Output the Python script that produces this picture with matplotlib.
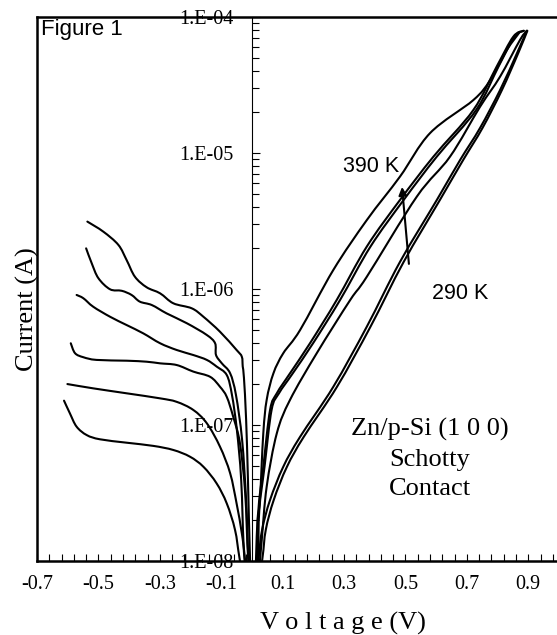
import numpy as np
import matplotlib
matplotlib.use("Agg")
import matplotlib.pyplot as plt
from matplotlib.path import Path
from matplotlib.patches import PathPatch
from matplotlib.ticker import LogLocator, NullFormatter, FixedLocator

# I-V curves of Zn/p-Si Schottky contact, 290 K .. 390 K
# each list runs from reverse bias, through the dip at 0 V, to forward bias
temps = [390, 370, 350, 330, 310, 290]

v_390 = [-0.536, -0.484, -0.435, -0.408, -0.381, -0.343, -0.299, -0.256, -0.196, -0.158,
         -0.104, -0.050, -0.033, -0.030, -0.026, -0.019, -0.013, -0.006, 0.004,
         0.013, 0.018, 0.026, 0.037, 0.048, 0.070, 0.102, 0.157, 0.265, 0.374, 0.482,
         0.580, 0.721, 0.776, 0.830, 0.873]
i_390 = [3.13e-6, 2.64e-6, 2.11e-6, 1.63e-6, 1.23e-6, 1.03e-6, 9.29e-7, 7.85e-7, 7.21e-7, 6.25e-7,
         4.85e-7, 3.56e-7, 3.18e-7, 2.69e-7, 2.22e-7, 1.10e-7, 3.98e-8, 1.0e-8, 3e-9,
         1.0e-8, 2.0e-8, 2.81e-8, 8.69e-8, 1.53e-7, 2.40e-7, 3.37e-7, 5.00e-7, 1.38e-6, 3.21e-6, 6.70e-6,
         1.40e-5, 2.45e-5, 3.44e-5, 5.71e-5, 7.80e-5]

v_370 = [-0.540, -0.522, -0.500, -0.462, -0.424, -0.392, -0.365, -0.326, -0.278, -0.212,
         -0.147, -0.120, -0.117, -0.098, -0.071, -0.052, -0.032, -0.019, -0.011, 0.004,
         0.017, 0.021, 0.037, 0.059, 0.081, 0.124, 0.189, 0.276, 0.374, 0.482,
         0.591, 0.721, 0.797, 0.851, 0.884]
i_370 = [1.99e-6, 1.55e-6, 1.20e-6, 9.95e-7, 9.70e-7, 9.04e-7, 8.07e-7, 7.62e-7, 6.62e-7, 5.60e-7,
         4.59e-7, 3.99e-7, 3.27e-7, 2.84e-7, 2.40e-7, 1.66e-7, 7.76e-8, 2.81e-8, 1.0e-8, 3e-9,
         1.0e-8, 2.37e-8, 4.93e-8, 1.29e-7, 1.71e-7, 2.40e-7, 3.99e-7, 8.30e-7, 2.05e-6, 4.51e-6,
         9.40e-6, 2.07e-5, 4.32e-5, 7.16e-5, 7.92e-5]

v_350 = [-0.571, -0.549, -0.517, -0.462, -0.408, -0.354, -0.299, -0.245, -0.191, -0.147,
         -0.115, -0.082, -0.065, -0.049, -0.035, -0.024, 0.004,
         0.019, 0.024, 0.041, 0.064, 0.088, 0.133, 0.199, 0.287, 0.386, 0.494,
         0.602, 0.730, 0.803, 0.855, 0.886]
i_350 = [9.04e-7, 8.55e-7, 7.41e-7, 6.25e-7, 5.43e-7, 4.72e-7, 3.99e-7, 3.56e-7, 3.27e-7, 3.01e-7,
         2.69e-7, 2.33e-7, 1.66e-7, 9.18e-8, 3.94e-8, 1.0e-8, 3e-9,
         1.0e-8, 2.37e-8, 4.93e-8, 1.29e-7, 1.71e-7, 2.40e-7, 3.99e-7, 8.30e-7, 2.05e-6, 4.51e-6,
         9.40e-6, 2.07e-5, 4.32e-5, 7.16e-5, 7.92e-5]

v_330 = [-0.590, -0.576, -0.549, -0.506, -0.408, -0.343, -0.299, -0.245, -0.191, -0.136,
         -0.104, -0.082, -0.061, -0.039, -0.022, -0.012, 0.006,
         0.026, 0.032, 0.048, 0.081, 0.124, 0.211, 0.320, 0.374, 0.537, 0.645,
         0.743, 0.808, 0.873, 0.895]
i_330 = [3.99e-7, 3.37e-7, 3.15e-7, 3.01e-7, 2.97e-7, 2.92e-7, 2.84e-7, 2.76e-7, 2.47e-7, 2.26e-7,
         1.91e-7, 1.61e-7, 1.15e-7, 7.33e-8, 3.15e-8, 1.0e-8, 3e-9,
         1.0e-8, 1.43e-8, 3.52e-8, 8.69e-8, 1.53e-7, 3.37e-7, 8.30e-7, 1.23e-6, 4.78e-6, 9.40e-6,
         2.19e-5, 3.64e-5, 6.78e-5, 7.92e-5]

v_310 = [-0.601, -0.517, -0.408, -0.299, -0.245, -0.191, -0.147, -0.104, -0.071, -0.050,
         -0.033, -0.022, 0.000,
         0.021, 0.033, 0.059, 0.102, 0.157, 0.265, 0.374, 0.482, 0.602, 0.678,
         0.743, 0.808, 0.863, 0.895]
i_310 = [2.00e-7, 1.86e-7, 1.71e-7, 1.57e-7, 1.48e-7, 1.29e-7, 1.03e-7, 6.92e-8, 4.42e-8, 2.65e-8,
         1.60e-8, 1.0e-8, 3e-9,
         1.0e-8, 1.69e-8, 2.81e-8, 4.93e-8, 8.20e-8, 1.91e-7, 5.28e-7, 1.58e-6, 4.51e-6, 8.89e-6,
         1.53e-5, 2.90e-5, 5.41e-5, 7.92e-5]

v_290 = [-0.612, -0.593, -0.571, -0.538, -0.495, -0.408, -0.321, -0.256, -0.202, -0.158,
         -0.115, -0.082, -0.055, -0.039, 0.000,
         0.033, 0.045, 0.071, 0.114, 0.169, 0.277, 0.386, 0.494, 0.612, 0.688,
         0.751, 0.814, 0.867, 0.897]
i_290 = [1.51e-7, 1.22e-7, 9.72e-8, 8.43e-8, 7.85e-8, 7.41e-8, 7.02e-8, 6.55e-8, 5.85e-8, 4.93e-8,
         3.72e-8, 2.65e-8, 1.69e-8, 1.0e-8, 3e-9,
         1.0e-8, 1.69e-8, 2.81e-8, 4.93e-8, 8.20e-8, 1.91e-7, 5.28e-7, 1.58e-6, 4.51e-6, 8.89e-6,
         1.53e-5, 2.90e-5, 5.41e-5, 7.92e-5]

curves = [(v_390, i_390), (v_370, i_370), (v_350, i_350),
          (v_330, i_330), (v_310, i_310), (v_290, i_290)]

y_ticks = [1e-8, 1e-7, 1e-6, 1e-5, 1e-4]
y_labels = ['1.E-08', '1.E-07', '1.E-06', '1.E-05', '1.E-04']
x_ticks = [-0.7, -0.5, -0.3, -0.1, 0.1, 0.3, 0.5, 0.7, 0.9]
x_labels = ['-0.7', '-0.5', '-0.3', '-0.1', '0.1', '0.3', '0.5', '0.7', '0.9']

serif = 'Liberation Serif'
sans = 'Liberation Sans'


def smooth_path(v, i):
    """Smoothed (Excel-style) line through the points, built in log-current space."""
    pts = np.column_stack([np.asarray(v, float), np.log10(i)])
    n = len(pts)
    verts = [pts[0]]
    codes = [Path.MOVETO]
    for k in range(n - 1):
        p0 = pts[max(k - 1, 0)]
        p1 = pts[k]
        p2 = pts[k + 1]
        p3 = pts[min(k + 2, n - 1)]
        verts += [p1 + (p2 - p0) / 6, p2 - (p3 - p1) / 6, p2]
        codes += [Path.CURVE4] * 3
    verts = np.array(verts)
    verts[:, 1] = 10 ** verts[:, 1]
    return Path(verts, codes)


fig = plt.figure(figsize=(5.57, 6.35), dpi=100)
ax = fig.add_axes([37/557, 74/635, 522/557, 544/635])

ax.set_yscale('log')
ax.set_xlim(-0.7, 1.0)
ax.set_ylim(1e-8, 1e-4)
ax.set_axisbelow(True)

for v, i in curves:
    ax.add_patch(PathPatch(smooth_path(v, i), fill=False, edgecolor='black', lw=1.5,
                           joinstyle='round', capstyle='round'))

# y axis sits at V = 0
ax.spines['left'].set_position(('data', 0))
ax.spines['left'].set_linewidth(0.8)
ax.spines['right'].set_visible(False)
ax.spines['top'].set_linewidth(1.8)
ax.spines['bottom'].set_linewidth(1.8)
ax.plot([0, 0], [0, 1], transform=ax.transAxes, color='black', lw=1.8,
        clip_on=False, solid_capstyle='projecting')

ax.set_yticks(y_ticks)
ax.set_yticklabels(y_labels, fontfamily=serif, fontsize=14.5)
ax.yaxis.set_minor_locator(LogLocator(base=10, subs=np.arange(2, 10)))
ax.yaxis.set_minor_formatter(NullFormatter())
ax.tick_params(axis='y', which='both', direction='in', right=False, width=0.8, pad=13)
ax.tick_params(axis='y', which='major', length=6)
ax.tick_params(axis='y', which='minor', length=5)

ax.set_xticks(x_ticks)
ax.set_xticklabels(x_labels, fontfamily=serif, fontsize=14.5)
ax.xaxis.set_minor_locator(FixedLocator(np.arange(-0.7, 1.0, 0.04)))
ax.tick_params(axis='x', which='both', direction='in', top=False, length=5, width=0.8, pad=10)

ax.annotate('', xy=(0.488, 5.9e-6), xytext=(0.512, 1.46e-6),
            arrowprops=dict(arrowstyle='-|>', color='black', lw=1.5, mutation_scale=12))
ax.text(0.297, 7.9e-6, '390 K', fontfamily=sans, fontsize=15.5, va='center', ha='left')
ax.text(0.586, 9.3e-7, '290 K', fontfamily=sans, fontsize=15.5, va='center', ha='left')
ax.text(0.580, 5.6e-8, 'Zn/p-Si (1 0 0)\nSchotty\nContact', fontfamily=serif,
        fontsize=19, ha='center', va='center', linespacing=1.43)

fig.text(41/557, 1 - 19/635, 'Figure 1', fontfamily=sans, fontsize=16, ha='left', va='top')
fig.text(27/557, 1 - 309/635, 'Current (A)', fontfamily=serif, fontsize=19,
         rotation=90, ha='center', va='center')
fig.text(343/557, 5/635, 'V o l t a g e (V)', fontfamily=serif, fontsize=19,
         ha='center', va='baseline')

fig.savefig('out.png', dpi=100)
